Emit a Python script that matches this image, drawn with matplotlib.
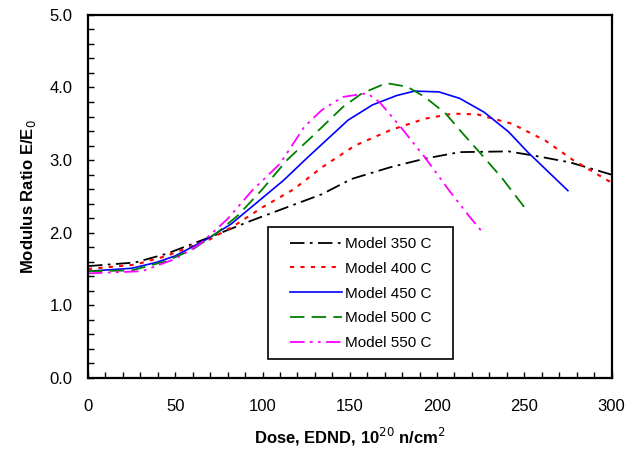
import matplotlib
matplotlib.use("Agg")
import matplotlib.pyplot as plt
from matplotlib.patches import Rectangle
from matplotlib.ticker import MultipleLocator

plt.rcParams['font.family'] = ['Liberation Sans', 'DejaVu Sans']

# dose (10^20 n/cm2) and modulus ratio
dose_350 = [0, 27, 45, 70, 94, 114, 134, 151, 173, 193, 213, 241, 256, 276, 300]
ratio_350 = [1.54, 1.59, 1.71, 1.94, 2.17, 2.35, 2.53, 2.74, 2.90, 3.02, 3.11, 3.12, 3.06, 2.97, 2.80]

dose_400 = [0, 27, 45, 70, 84, 100, 118, 134, 153, 173, 193, 209, 223, 243, 262, 278, 295, 300]
ratio_400 = [1.50, 1.56, 1.68, 1.91, 2.10, 2.35, 2.60, 2.90, 3.20, 3.41, 3.57, 3.64, 3.63, 3.50, 3.27, 3.00, 2.76, 2.69]

dose_450 = [0, 25, 39, 50, 68, 82, 96, 112, 126, 149, 163, 177, 187, 201, 213, 227, 241, 252, 275]
ratio_450 = [1.47, 1.51, 1.59, 1.68, 1.91, 2.12, 2.40, 2.72, 3.04, 3.55, 3.76, 3.89, 3.95, 3.94, 3.85, 3.66, 3.39, 3.11, 2.58]

dose_500 = [0, 25, 45, 60, 74, 86, 100, 114, 130, 146, 157, 171, 183, 193, 205, 215, 225, 237, 252]
ratio_500 = [1.47, 1.48, 1.61, 1.77, 2.00, 2.24, 2.60, 3.00, 3.36, 3.73, 3.92, 4.06, 4.01, 3.87, 3.64, 3.36, 3.09, 2.76, 2.29]

dose_550 = [0, 31, 50, 64, 80, 94, 110, 124, 134, 146, 160, 167, 179, 193, 207, 219, 227]
ratio_550 = [1.44, 1.47, 1.64, 1.84, 2.19, 2.58, 2.95, 3.46, 3.69, 3.87, 3.92, 3.80, 3.46, 3.04, 2.58, 2.21, 1.98]

fig = plt.figure(figsize=(6.4, 4.51), dpi=100)
ax = fig.add_axes([0.1375, 0.162, 0.818, 0.805])

ax.plot(dose_350, ratio_350, color='black', lw=1.3, dashes=(8, 3, 1.5, 3), label='Model 350 C')
ax.plot(dose_400, ratio_400, color='#FF0000', lw=1.5, dashes=(2, 3), label='Model 400 C')
ax.plot(dose_450, ratio_450, color='#0000FF', lw=1.2, label='Model 450 C')
ax.plot(dose_500, ratio_500, color='#008000', lw=1.3, dashes=(8, 4), label='Model 500 C')
ax.plot(dose_550, ratio_550, color='#FF00FF', lw=1.3, dashes=(8, 3, 1.5, 3, 1.5, 3), label='Model 550 C')

ax.set_xlim(0, 300)
ax.set_ylim(0, 5)
ax.xaxis.set_major_locator(MultipleLocator(50))
ax.xaxis.set_minor_locator(MultipleLocator(10))
ax.yaxis.set_major_locator(MultipleLocator(1))
ax.yaxis.set_minor_locator(MultipleLocator(0.2))
ax.yaxis.set_major_formatter(plt.FormatStrFormatter('%.1f'))
ax.tick_params(which='both', direction='in', length=4, width=1, labelsize=12,
               top=False, right=False, colors='black')
ax.tick_params(axis='x', pad=15)
ax.tick_params(axis='y', pad=11)
for sp in ax.spines.values():
    sp.set_linewidth(1.6)

ax.set_xlabel('Dose, EDND, 10$^{20}$ n/cm$^{2}$', fontsize=12, fontweight='bold', labelpad=9)
ax.set_ylabel('Modulus Ratio E/E$_{0}$', fontsize=12, fontweight='bold', labelpad=8)

# legend frame drawn separately so the entries sit centred in a wider box
box = Rectangle((0.344, 0.052), 0.354, 0.364, transform=ax.transAxes,
                facecolor='white', edgecolor='black', lw=1.2, zorder=4)
ax.add_patch(box)
leg = ax.legend(loc='lower left', bbox_to_anchor=(0.369, 0.052), borderaxespad=0,
                fontsize=11, handlelength=3.4, handletextpad=0.2, labelspacing=0.7,
                borderpad=0.6, frameon=False)
leg.set_zorder(5)

fig.savefig('out.png', dpi=100)
